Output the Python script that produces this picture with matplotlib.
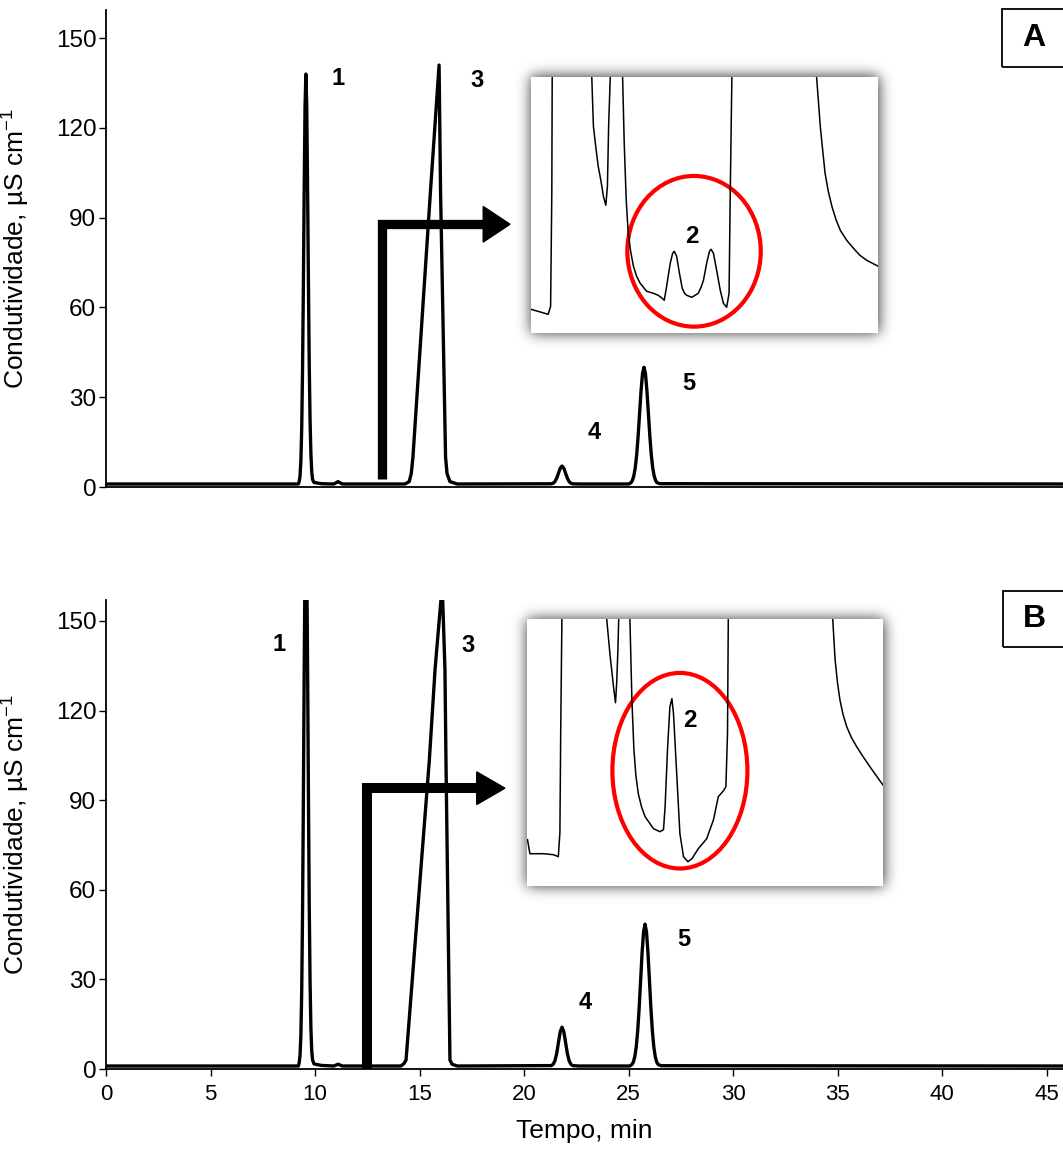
import matplotlib
matplotlib.use("Agg")
import matplotlib.pyplot as plt
from matplotlib.patches import Ellipse, Polygon, Rectangle
import numpy as np

FIG_W, FIG_H = 1063, 1149   # pixels at dpi 100
DPI = 100

plt.rcParams['font.family'] = ['Liberation Sans', 'DejaVu Sans']
plt.rcParams['mathtext.default'] = 'regular'

# ---- chromatogram A (minutes, uS/cm) ----
time_a = [0, 7.5, 9.2, 9.24, 9.28, 9.32, 9.36, 9.40, 9.44, 9.48, 9.52, 9.56,
          9.60, 9.64, 9.68, 9.72, 9.76, 9.80, 9.84, 9.88, 9.95, 10.3,
          10.9, 11.1, 11.3, 14.3, 14.5, 14.6, 14.68, 15.52, 15.93, 16.0,
          16.24, 16.31, 16.45, 16.8,
          21.3, 21.385, 21.47, 21.555, 21.64, 21.725, 21.81, 21.895, 21.98,
          22.065, 22.15, 22.235, 22.32, 22.6,
          25.0, 25.10, 25.17, 25.24, 25.31, 25.38, 25.45, 25.52, 25.59, 25.66,
          25.73, 25.80, 25.87, 25.94, 26.01, 26.08, 26.15, 26.22, 26.29, 26.36,
          26.5, 46]
cond_a = [1.0, 1.0, 1.0, 1.8, 3.7, 8.7, 19.5, 39.1, 67.7, 100.5, 127.5, 138,
          127.5, 101, 69, 41, 22, 11, 5, 2.5, 1.5, 1.1,
          1.0, 1.8, 1.0, 1.0, 1.8, 4.5, 10, 99, 141, 99,
          10, 4.5, 1.8, 1.0,
          1.07, 1.26, 1.8, 2.95, 4.6, 6.3, 7.0, 6.3, 4.6,
          2.95, 1.8, 1.26, 1.07, 1.0,
          1.0, 1.4, 2.1, 3.6, 6.3, 10.7, 17.0, 24.7, 32.2, 37.9,
          40.0, 37.9, 32.2, 24.7, 17.0, 10.7, 6.3, 3.6, 2.1, 1.4,
          1.1, 1.0]

# ---- chromatogram B ----
time_b = [0, 7.5, 9.2, 9.24, 9.28, 9.32, 9.36, 9.40, 9.44, 9.48, 9.52, 9.56,
          9.60, 9.64, 9.68, 9.72, 9.76, 9.80, 9.84, 9.88, 9.95, 10.3,
          10.9, 11.1, 11.3, 14.1, 14.25, 14.35, 15.46, 15.74, 16.08, 16.21,
          16.26, 16.45, 16.55, 16.8,
          21.3, 21.385, 21.47, 21.555, 21.64, 21.725, 21.81, 21.895, 21.98,
          22.065, 22.15, 22.235, 22.32, 22.6,
          25.05, 25.15, 25.22, 25.29, 25.36, 25.43, 25.50, 25.57, 25.64, 25.71,
          25.78, 25.85, 25.92, 25.99, 26.06, 26.13, 26.20, 26.27, 26.34, 26.41,
          26.55, 46]
cond_b = [1.0, 1.0, 1.0, 2.1, 4.6, 11.3, 25.8, 52.2, 90.6, 134.6, 170.8, 185,
          171, 136, 93, 55, 29, 13.5, 6, 3, 1.7, 1.2,
          1.0, 1.6, 1.0, 1.0, 1.8, 3, 103, 134, 162, 134,
          103, 3, 1.6, 1.0,
          1.14, 1.57, 2.75, 5.2, 8.9, 12.5, 14.0, 12.5, 8.9,
          5.2, 2.75, 1.57, 1.14, 1.0,
          1.0, 1.5, 2.3, 4.1, 7.4, 12.8, 20.5, 29.8, 39.0, 45.9,
          48.5, 45.9, 39.0, 29.8, 20.5, 12.8, 7.4, 4.1, 2.3, 1.5,
          1.1, 1.0]

# ---- zoomed traces shown in the insets ----
zoom_time_a = [9.0, 9.43, 9.49, 9.52, 9.53, 10.0, 10.52, 10.56, 10.62, 10.68, 10.75,
               10.81, 10.87, 10.91, 10.94, 10.98, 11.13, 11.29, 11.33, 11.38, 11.43,
               11.49, 11.56, 11.64, 11.73, 11.89, 12.06, 12.18, 12.28, 12.33, 12.39,
               12.44, 12.48, 12.54, 12.58, 12.64, 12.71, 12.78, 12.84, 12.89, 13.02,
               13.18, 13.25, 13.31, 13.39, 13.46, 13.50, 13.56, 13.64, 13.73, 13.81,
               13.89, 13.95, 13.98, 14.02, 15.1, 16.14, 16.23, 16.29, 16.35, 16.43,
               16.52, 16.62, 16.73, 16.89, 17.06, 17.22, 17.39, 17.68]
zoom_cond_a = [0.24, 0.19, 0.27, 1.40, 2.55, 8.0, 2.55, 2.07, 1.86, 1.67, 1.52,
               1.37, 1.28, 1.47, 2.07, 2.55, 5.0, 2.55, 1.90, 1.33, 1.00,
               0.82, 0.67, 0.57, 0.50, 0.42, 0.40, 0.38, 0.35, 0.33, 0.47,
               0.60, 0.70, 0.80, 0.82, 0.77, 0.60, 0.45, 0.40, 0.38, 0.36,
               0.40, 0.46, 0.53, 0.70, 0.82, 0.84, 0.80, 0.63, 0.43, 0.30,
               0.26, 0.40, 1.40, 2.55, 8.0, 2.55, 2.07, 1.83, 1.60, 1.42,
               1.27, 1.14, 1.03, 0.93, 0.85, 0.78, 0.73, 0.67]

zoom_time_b = [9.02, 9.08, 9.42, 9.67, 9.79, 9.83, 9.85, 9.88, 10.4, 11.0, 11.08,
               11.17, 11.22, 11.25, 11.28, 11.30, 11.45, 11.58, 11.63, 11.68, 11.73,
               11.79, 11.87, 11.96, 12.17, 12.33, 12.42, 12.46, 12.52, 12.58, 12.63,
               12.67, 12.75, 12.83, 12.92, 13.03, 13.13, 13.29, 13.50, 13.67, 13.79,
               13.92, 13.98, 14.02, 14.04, 15.5, 16.65, 16.71, 16.77, 16.83, 16.91,
               17.0, 17.12, 17.25, 17.41, 17.58, 17.9]
zoom_cond_b = [0.46, 0.32, 0.32, 0.31, 0.29, 0.53, 1.53, 2.67, 8.0, 2.67, 2.32,
               1.99, 1.83, 2.03, 2.36, 2.67, 5.0, 2.67, 1.86, 1.36, 1.10,
               0.92, 0.79, 0.69, 0.57, 0.54, 0.56, 0.79, 1.36, 1.79, 1.87,
               1.72, 1.12, 0.52, 0.29, 0.24, 0.27, 0.37, 0.47, 0.66, 0.89,
               0.95, 0.99, 1.52, 2.67, 8.0, 2.67, 2.26, 2.03, 1.86, 1.71,
               1.59, 1.48, 1.39, 1.29, 1.19, 1.01]

yticks = [0, 30, 60, 90, 120, 150]
xticks = [0, 5, 10, 15, 20, 25, 30, 35, 40, 45]


def px_rect(x0, y0, x1, y1):
    """pixel box (top-left origin) -> figure fraction rect"""
    return [x0 / FIG_W, 1 - y1 / FIG_H, (x1 - x0) / FIG_W, (y1 - y0) / FIG_H]


def style_main(ax, ymax, show_x):
    ax.set_xlim(0, 45.77)
    ax.set_ylim(0, ymax)
    for s in ['top', 'right']:
        ax.spines[s].set_visible(False)
    for s in ['left', 'bottom']:
        ax.spines[s].set_linewidth(1.3)
    ax.set_yticks(yticks)
    ax.tick_params(axis='y', direction='out', length=5, width=1, labelsize=17.5, pad=2)
    if show_x:
        ax.set_xticks(xticks)
        ax.tick_params(axis='x', direction='out', length=5, width=1, labelsize=16, pad=6)
        ax.set_xlabel('Tempo, min', fontsize=19)
        ax.xaxis.set_label_coords(0.5, -0.107)
    else:
        ax.tick_params(axis='x', bottom=False, labelbottom=False)
    ax.set_ylabel(r'Condutividade, µS cm$^{-1}$', fontsize=19)
    ax.yaxis.set_label_coords(-0.0773, 0.5)


def add_shadow(ax, box, margin=26, sigma=7.0, strength=0.8):
    # soft grey glow behind an inset, drawn as an RGBA image under the arrows
    x0, y0, x1, y1 = box
    w, h = int(round(x1 - x0)), int(round(y1 - y0))
    mask = np.zeros((h + 2 * margin, w + 2 * margin))
    mask[margin:margin + h, margin:margin + w] = 1.0
    r = np.arange(-3 * int(sigma), 3 * int(sigma) + 1)
    k = np.exp(-0.5 * (r / sigma) ** 2)
    k /= k.sum()
    blur = np.apply_along_axis(lambda v: np.convolve(v, k, mode='same'), 0, mask)
    blur = np.apply_along_axis(lambda v: np.convolve(v, k, mode='same'), 1, blur)
    rgba = np.zeros(mask.shape + (4,))
    rgba[..., 3] = strength * blur
    inv = ax.transData.inverted()
    lx, by = inv.transform((x0 - margin, FIG_H - (y1 + margin)))
    rx, ty = inv.transform((x1 + margin, FIG_H - (y0 - margin)))
    xl, yl = ax.get_xlim(), ax.get_ylim()
    ax.imshow(rgba, extent=(lx, rx, by, ty), aspect='auto', interpolation='bilinear',
              zorder=1, clip_on=False)
    ax.set_xlim(xl)
    ax.set_ylim(yl)


def add_inset(fig, box, t, c, xlim, ylim, ring, label_xy):
    ins = fig.add_axes(px_rect(*box))
    ins.set_facecolor('white')
    ins.plot(t, c, color='black', lw=1.1, solid_joinstyle='round')
    ins.set_xlim(xlim)
    ins.set_ylim(ylim)
    ins.set_xticks([])
    ins.set_yticks([])
    for s in ins.spines.values():
        s.set_visible(False)
    ins.add_patch(Ellipse(ring[0], ring[1], ring[2], fill=False, edgecolor='#ff0000', lw=3))
    ins.text(label_xy[0], label_xy[1], '2', fontsize=17.5, fontweight='bold',
             ha='center', va='center')
    return ins


def add_arrow(ax, x, y0, y1, x_head, x_tip, half, lw):
    ax.plot([x, x, x_head + 0.1], [y0, y1, y1], color='black', lw=lw,
            solid_joinstyle='miter', solid_capstyle='butt', zorder=4)
    ax.add_patch(Polygon([(x_head, y1 + half), (x_tip, y1), (x_head, y1 - half)],
                         closed=True, color='black', zorder=4, clip_on=False))


def add_panel_tag(fig, box, letter):
    x0, y0, x1, y1 = box
    fig.add_artist(Rectangle((x0 / FIG_W, 1 - y1 / FIG_H), (x1 - x0) / FIG_W,
                             (y1 - y0) / FIG_H, transform=fig.transFigure,
                             fill=False, edgecolor='black', lw=1.3))
    fig.text((x0 + 31) / FIG_W, 1 - (y0 + y1) / 2 / FIG_H, letter, fontsize=23,
             fontweight='bold', ha='center', va='center')


fig = plt.figure(figsize=(FIG_W / DPI, FIG_H / DPI), dpi=DPI)

# panel A
ax_a = fig.add_axes(px_rect(106, 10, 1063, 487))
style_main(ax_a, 159.4, False)
ax_a.plot(time_a, cond_a, color='black', lw=2.4, zorder=3, solid_joinstyle='round')
for txt, tx, ty in [('1', 11.11, 136.6), ('3', 17.76, 136), ('4', 23.35, 18.1), ('5', 27.88, 34.6)]:
    ax_a.text(tx, ty, txt, fontsize=17, fontweight='bold', ha='center', va='center')
add_shadow(ax_a, (531, 76.7, 878.3, 333.3))
add_arrow(ax_a, 13.18, 2.6, 87.8, 18.04, 19.32, 5.95, 6.7)

# panel B
ax_b = fig.add_axes(px_rect(106, 600, 1063, 1069))
style_main(ax_b, 157.0, True)
ax_b.plot(time_b, cond_b, color='black', lw=2.4, zorder=3, solid_joinstyle='round')
for txt, tx, ty in [('1', 8.27, 142), ('3', 17.33, 141.8), ('4', 22.9, 22.1), ('5', 27.64, 43.2)]:
    ax_b.text(tx, ty, txt, fontsize=17, fontweight='bold', ha='center', va='center')
add_shadow(ax_b, (526.7, 619, 882.7, 885.7))
add_arrow(ax_b, 12.47, 0, 94.0, 17.73, 19.08, 5.46, 7.2)

# zoomed insets
add_inset(fig, (531, 76.7, 878.3, 333.3), zoom_time_a, zoom_cond_a, (9.0, 17.68), (0, 2.566),
          ((13.075, 0.82), 3.335, 1.507), (13.02, 0.97))
add_inset(fig, (526.7, 619, 882.7, 885.7), zoom_time_b, zoom_cond_b, (9.0, 17.9), (0, 2.667),
          ((12.83, 1.15), 3.375, 1.956), (13.07, 1.65))

add_panel_tag(fig, (1002.3, 9.3, 1080, 66.7), 'A')
add_panel_tag(fig, (1003, 591, 1080, 647), 'B')

fig.savefig('out.png', dpi=DPI)
